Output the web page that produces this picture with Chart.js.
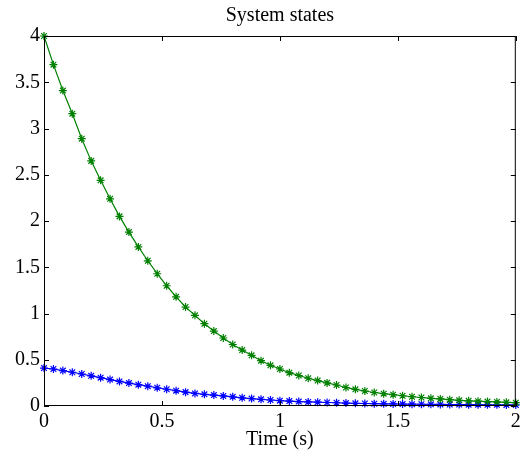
<!DOCTYPE html>
<html>
<head>
<meta charset="utf-8">
<script src="https://cdn.jsdelivr.net/npm/chart.js@4"></script>
<style>
  html, body { margin: 0; padding: 0; background: #fff; }
</style>
</head>
<body>
<canvas id="statesChart" width="521" height="458"></canvas>
<script>
// sample times (s)
const timeS = [0, 0.04, 0.08, 0.12, 0.16, 0.2, 0.24, 0.28, 0.32, 0.36, 0.4, 0.44, 0.48, 0.52, 0.56, 0.6,
  0.64, 0.68, 0.72, 0.76, 0.8, 0.84, 0.88, 0.92, 0.96, 1, 1.04, 1.08, 1.12, 1.16, 1.2, 1.24, 1.28, 1.32,
  1.36, 1.4, 1.44, 1.48, 1.52, 1.56, 1.6, 1.64, 1.68, 1.72, 1.76, 1.8, 1.84, 1.88, 1.92, 1.96, 2];

// state 2 (green)
const stateGreen = [4.00, 3.69, 3.41, 3.16, 2.89, 2.65, 2.44, 2.24, 2.05, 1.88, 1.72, 1.57, 1.43, 1.30,
  1.18, 1.07, 0.98, 0.89, 0.81, 0.735, 0.665, 0.605, 0.548, 0.49, 0.44, 0.40, 0.36, 0.33, 0.30, 0.275,
  0.25, 0.227, 0.20, 0.18, 0.162, 0.146, 0.133, 0.122, 0.111, 0.10, 0.092, 0.083, 0.076, 0.068, 0.061,
  0.056, 0.052, 0.048, 0.044, 0.040, 0.036];

// state 1 (blue)
const stateBlue = [0.41, 0.40, 0.383, 0.365, 0.346, 0.326, 0.306, 0.286, 0.266, 0.248, 0.231, 0.214,
  0.197, 0.181, 0.166, 0.150, 0.136, 0.126, 0.118, 0.109, 0.099, 0.088, 0.080, 0.072, 0.065, 0.058,
  0.053, 0.048, 0.044, 0.041, 0.038, 0.035, 0.032, 0.029, 0.027, 0.025, 0.024, 0.022, 0.021, 0.020,
  0.019, 0.018, 0.017, 0.016, 0.015, 0.014, 0.014, 0.013, 0.013, 0.012, 0.012];

const xTicks = [0, 0.5, 1, 1.5, 2];
const yTicks = [0, 0.5, 1, 1.5, 2, 2.5, 3, 3.5, 4];

const FONT = "'Liberation Serif', 'Times New Roman', serif";

function toPoints(ys) {
  return timeS.map((t, i) => ({ x: t, y: ys[i] }));
}

// MATLAB style box with inward ticks on all four sides
const axesBox = {
  id: 'axesBox',
  afterDraw(chart) {
    const { ctx, chartArea: a, scales } = chart;
    const len = 5;
    ctx.save();
    ctx.strokeStyle = '#000';
    ctx.lineWidth = 1;
    ctx.beginPath();
    ctx.rect(a.left + 0.5, a.top + 0.5, a.right - a.left - 1, a.bottom - a.top - 1);
    xTicks.forEach(v => {
      const px = Math.round(scales.x.getPixelForValue(v)) + 0.5;
      ctx.moveTo(px, a.bottom); ctx.lineTo(px, a.bottom - len);
      ctx.moveTo(px, a.top); ctx.lineTo(px, a.top + len);
    });
    yTicks.forEach(v => {
      const py = Math.round(scales.y.getPixelForValue(v)) + 0.5;
      ctx.moveTo(a.left, py); ctx.lineTo(a.left + len, py);
      ctx.moveTo(a.right, py); ctx.lineTo(a.right - len, py);
    });
    ctx.stroke();
    ctx.restore();
  }
};

new Chart(document.getElementById('statesChart'), {
  type: 'line',
  data: {
    datasets: [
      {
        label: 'x2',
        data: toPoints(stateGreen),
        borderColor: '#008000',
        backgroundColor: '#008000',
        borderWidth: 1.2,
        pointStyle: 'star',
        pointRadius: 4,
        pointBorderWidth: 1.2,
        pointBorderColor: '#008000',
        tension: 0,
        clip: false
      },
      {
        label: 'x1',
        data: toPoints(stateBlue),
        borderColor: '#0000ff',
        backgroundColor: '#0000ff',
        borderWidth: 1.2,
        pointStyle: 'star',
        pointRadius: 4,
        pointBorderWidth: 1.2,
        pointBorderColor: '#0000ff',
        tension: 0,
        clip: false
      }
    ]
  },
  options: {
    responsive: false,
    animation: false,
    layout: { padding: { left: 0, right: 5, top: 0, bottom: 0 } },
    plugins: {
      legend: { display: false },
      tooltip: { enabled: false },
      title: {
        display: true,
        text: 'System states',
        fullSize: false,
        color: '#000',
        font: { family: FONT, size: 20, weight: 'normal' },
        padding: { top: 4, bottom: 8 }
      }
    },
    scales: {
      x: {
        type: 'linear',
        min: 0,
        max: 2,
        afterBuildTicks: s => { s.ticks = xTicks.map(v => ({ value: v })); },
        afterFit: s => { s.height = 52; s.paddingLeft = 0; s.paddingRight = 0; },
        grid: { display: false, drawTicks: false },
        border: { display: false },
        ticks: {
          color: '#000',
          padding: 4,
          maxRotation: 0,
          callback: v => String(v),
          font: { family: FONT, size: 20 }
        },
        title: {
          display: true,
          text: 'Time (s)',
          color: '#000',
          font: { family: FONT, size: 20 },
          padding: { top: 0, bottom: 6 }
        }
      },
      y: {
        type: 'linear',
        min: 0,
        max: 4,
        afterBuildTicks: s => { s.ticks = yTicks.map(v => ({ value: v })); },
        afterFit: s => { s.width = 44; },
        grid: { display: false, drawTicks: false },
        border: { display: false },
        ticks: {
          color: '#000',
          padding: 4,
          callback: v => String(v),
          font: { family: FONT, size: 20 }
        }
      }
    }
  },
  plugins: [axesBox]
});
</script>
</body>
</html>
